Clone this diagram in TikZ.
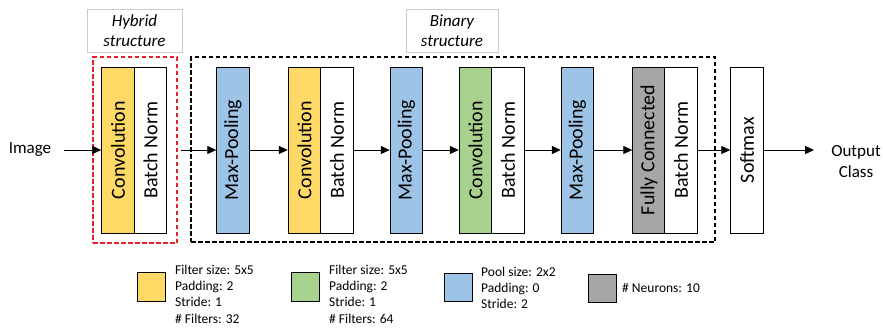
\documentclass[tikz,border=0pt]{standalone}
\usepackage{fontspec}
\setmainfont{Carlito}
\usetikzlibrary{arrows.meta}
\definecolor{convyellow}{HTML}{FFD966}
\definecolor{convgreen}{HTML}{A9D18E}
\definecolor{poolblue}{HTML}{9DC3E6}
\definecolor{fcgray}{HTML}{A6A6A6}
\definecolor{hybred}{HTML}{E8202A}
\tikzset{
  layer/.style={draw, line width=1pt, rotate=90, minimum width=166pt,
    minimum height=32.5pt, inner sep=0pt, font=\fontsize{20}{24}\selectfont},
  tag/.style={draw=black!20, line width=0.6pt, minimum width=#1, minimum height=43pt,
    align=center, font=\fontsize{17}{20}\selectfont\itshape},
  group/.style={draw=#1, dash pattern=on 4.5pt off 2.5pt, line width=1.1pt},
  swatch/.style={draw, line width=1pt, minimum width=28pt, minimum height=28.5pt, inner sep=0pt},
  legtext/.style={anchor=west, inner sep=0pt, align=left, font=\fontsize{13.5}{16.3}\selectfont},
  arr/.style={-{Triangle[length=9pt,width=8pt]}, line width=0.8pt}
}
\begin{document}
\begin{tikzpicture}[x=1pt, y=-1pt]
      \useasboundingbox (0,0) rectangle (883,327);
      \draw
        (30,150) node[inner sep=0pt, font=\fontsize{17}{20}\selectfont] (img){Image}
        (856,162) node[inner sep=0pt, align=center, font=\fontsize{17}{21}\selectfont] (out){Output\\Class}
        (134.5,30.5) node[tag=95pt] (hyblab){Hybrid\\structure}
        (452,30.5) node[tag=92pt] (binlab){Binary\\structure};
      \node[group=hybred, minimum width=84pt, minimum height=186pt] (hyb) at (135,150) {};
      \node[group=black, minimum width=524pt, minimum height=185pt] (bin) at (453,149.5) {};
      \draw
        (118,150) node[layer, fill=convyellow] (conv1){Convolution}
        (150.5,150) node[layer, fill=white] (bn1){Batch Norm}
        (233,150) node[layer, fill=poolblue] (mp1){Max-Pooling}
        (304.5,150) node[layer, fill=convyellow] (conv2){Convolution}
        (337,150) node[layer, fill=white] (bn2){Batch Norm}
        (406.5,150) node[layer, fill=poolblue] (mp2){Max-Pooling}
        (475.5,150) node[layer, fill=convgreen] (conv3){Convolution}
        (508,150) node[layer, fill=white] (bn3){Batch Norm}
        (577.5,150) node[layer, fill=poolblue] (mp3){Max-Pooling}
        (649,150) node[layer, fill=fcgray] (fc){Fully Connected}
        (681,150) node[layer, fill=white] (bn4){Batch Norm}
        (747,150) node[layer, fill=white] (soft){Softmax};
      \begin{scope}[arr]
        \draw[shorten <=13pt] (img) to (conv1);
        \draw[shorten <=3pt] (hyb) to (mp1);
        \draw (mp1) to (conv2);
        \draw (bn2) to (mp2);
        \draw (mp2) to (conv3);
        \draw (bn3) to (mp3);
        \draw (mp3) to (fc);
        \draw (bn4) to (soft);
        \draw[shorten >=17pt] (soft) to (out.west |- soft);
      \end{scope}
      \draw
        (151,287) node[swatch, fill=convyellow] (keyconv1){}
        (305.5,287) node[swatch, fill=convgreen] (keyconv2){}
        (458,287.5) node[swatch, fill=poolblue] (keypool){}
        (602,288.5) node[swatch, fill=fcgray] (keyfc){};
      \draw
        (175,294) node[legtext] (txtconv1){Filter size: 5x5\\Padding: 2\\Stride: 1\\\# Filters: 32}
        (329,294) node[legtext] (txtconv2){Filter size: 5x5\\Padding: 2\\Stride: 1\\\# Filters: 64}
        (481,288) node[legtext] (txtpool){Pool size: 2x2\\Padding: 0\\Stride: 2}
        (622,288) node[legtext] (txtfc){\# Neurons: 10};
    \end{tikzpicture}
\end{document}
